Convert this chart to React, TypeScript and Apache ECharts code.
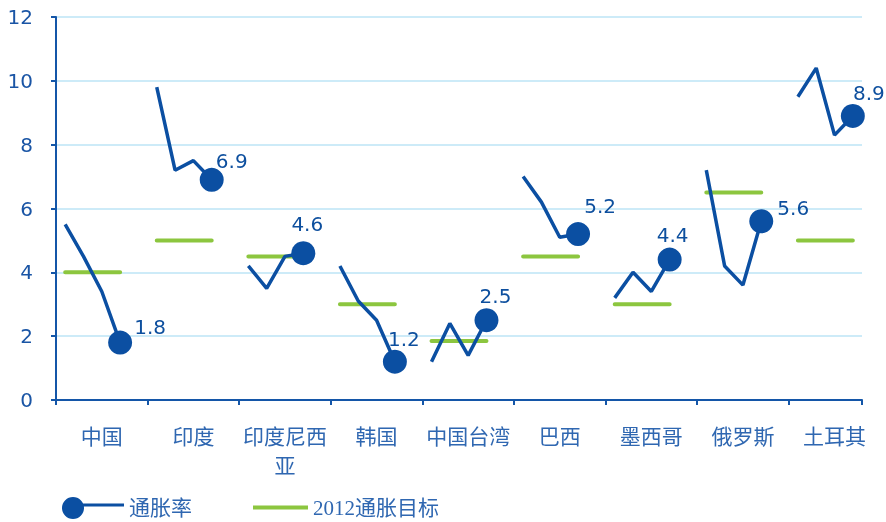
import React, { useEffect, useRef } from "react";
import * as echarts from "echarts";

// ---- data ----
const countries = ["中国", "印度", "印度尼西亚", "韩国", "中国台湾", "巴西", "墨西哥", "俄罗斯", "土耳其"];
const chinaCPI = [5.5, 4.5, 3.4, 1.8];
const indiaCPI = [9.8, 7.2, 7.5, 6.9];
const indonesiaCPI = [4.2, 3.5, 4.5, 4.6];
const koreaCPI = [4.2, 3.1, 2.5, 1.2];
const taiwanCPI = [1.2, 2.4, 1.4, 2.5];
const brazilCPI = [7.0, 6.2, 5.1, 5.2];
const mexicoCPI = [3.2, 4.0, 3.4, 4.4];
const russiaCPI = [7.2, 4.2, 3.6, 5.6];
const turkeyCPI = [9.5, 10.4, 8.3, 8.9];
const inflation = [chinaCPI, indiaCPI, indonesiaCPI, koreaCPI, taiwanCPI, brazilCPI, mexicoCPI, russiaCPI, turkeyCPI];
const targets2012 = [4, 5, 4.5, 3, 1.85, 4.5, 3, 6.5, 5];
const yTicks = { min: 0, max: 12, interval: 2 };
const seriesNames = ["通胀率", "2012通胀目标"];

// ---- style ----
const BLUE = "#0b4fa2";
const GREEN = "#8cc63f";
const AXIS = "#1456a8";
const TEXT_BLUE = "#2f67b1";
const labelNudge = [[30, 6], [20, 3], [4, -7], [9, -1], [9, -2], [22, -6], [3, -3], [32, 9], [16, -1]];
const SLOTS = 5;

export default function App() {
  const ref = useRef<HTMLDivElement>(null);
  useEffect(() => {
    const chart = echarts.init(ref.current!, null, { renderer: "svg" });

    const slots: string[] = [];
    const slotLabel: string[] = [];
    const endFlag: boolean[] = [];
    const blueData: any[] = [];
    const greenData: any[] = [];
    countries.forEach((c, i) => {
      const vals = inflation[i];
      const n = i === countries.length - 1 ? vals.length : SLOTS;
      for (let j = 0; j < n; j++) {
        slots.push(String(slots.length));
        slotLabel.push(j === 2 ? (c.length > 4 ? c.slice(0, 4) + "\n" + c.slice(4) : c) : "");
        const isEnd = j === vals.length - 1;
        endFlag.push(isEnd);
        if (j < vals.length) {
          if (isEnd) {
            blueData.push({
              value: vals[j],
              label: {
                show: true,
                position: "top",
                distance: 0,
                offset: labelNudge[i],
              },
            });
          } else blueData.push(vals[j]);
          greenData.push(targets2012[i]);
        } else {
          blueData.push(null);
          greenData.push(null);
        }
      }
    });

    const legendText = {
      fontSize: 21,
      color: TEXT_BLUE,
      fontFamily: "'Liberation Serif', 'Noto Sans CJK SC', serif",
    };

    chart.setOption({
      animation: false,
      grid: { left: 56, right: 24, top: 17, bottom: 122, containLabel: false },
      legend: [
        {
          data: [
            {
              name: seriesNames[0],
              icon: "path://M0,11 A11,11 0 1,1 22,11 A11,11 0 1,1 0,11 Z M18,6.5 H62 V9.5 H18 Z",
            },
          ],
          left: 62,
          top: 497,
          padding: 0,
          itemWidth: 62,
          itemHeight: 22,
          selectedMode: false,
          itemStyle: { borderWidth: 0 },
          textStyle: legendText,
        },
        {
          data: [{ name: seriesNames[1], icon: "path://M0,0 H55 V4 H0 Z" }],
          left: 253,
          top: 497,
          padding: 0,
          itemWidth: 55,
          itemHeight: 4,
          selectedMode: false,
          itemStyle: { borderWidth: 0 },
          textStyle: legendText,
        },
      ],
      xAxis: {
        type: "category",
        data: slots,
        boundaryGap: true,
        axisLine: { lineStyle: { color: AXIS, width: 2 } },
        axisTick: {
          show: true,
          length: 5,
          interval: (idx: number) => idx % SLOTS === 0,
          lineStyle: { color: AXIS, width: 2 },
        },
        axisLabel: {
          interval: (idx: number) => idx % SLOTS === 2,
          formatter: (_v: string, idx: number) => slotLabel[idx] || "",
          fontSize: 21,
          lineHeight: 29,
          margin: 22,
          color: TEXT_BLUE,
          fontFamily: "'Liberation Serif', 'Noto Sans CJK SC', serif",
        },
        splitLine: { show: false },
      },
      yAxis: {
        type: "value",
        min: yTicks.min,
        max: yTicks.max,
        interval: yTicks.interval,
        axisLine: { show: true, lineStyle: { color: AXIS, width: 2 } },
        axisTick: { show: true, length: 5, lineStyle: { color: AXIS, width: 2 } },
        axisLabel: {
          fontSize: 20,
          margin: 23,
          color: "#1a55a5",
          fontFamily: "'DejaVu Sans', sans-serif",
        },
        splitLine: { lineStyle: { color: "#bce4f6", width: 1.5 } },
      },
      series: [
        {
          name: seriesNames[1],
          type: "line",
          data: greenData,
          symbol: "none",
          connectNulls: false,
          lineStyle: { color: GREEN, width: 4, cap: "round" },
          itemStyle: { color: GREEN, borderWidth: 0 },
          emphasis: { disabled: true },
          z: 2,
        },
        {
          name: seriesNames[0],
          type: "line",
          data: blueData,
          symbol: "circle",
          showSymbol: true,
          showAllSymbol: true,
          symbolSize: (_v: any, p: any) => (endFlag[p.dataIndex] ? 24 : 0),
          connectNulls: false,
          lineStyle: { color: BLUE, width: 3.5 },
          itemStyle: { color: BLUE, borderWidth: 0 },
          label: {
            show: false,
            fontSize: 20,
            color: "#0d4f9e",
            fontFamily: "'DejaVu Sans', sans-serif",
          },
          emphasis: { disabled: true },
          z: 3,
        },
      ],
    });
    return () => chart.dispose();
  }, []);
  return <div ref={ref} style={{ position: "fixed", left: 0, top: 0, width: 886, height: 522 }} />;
}
